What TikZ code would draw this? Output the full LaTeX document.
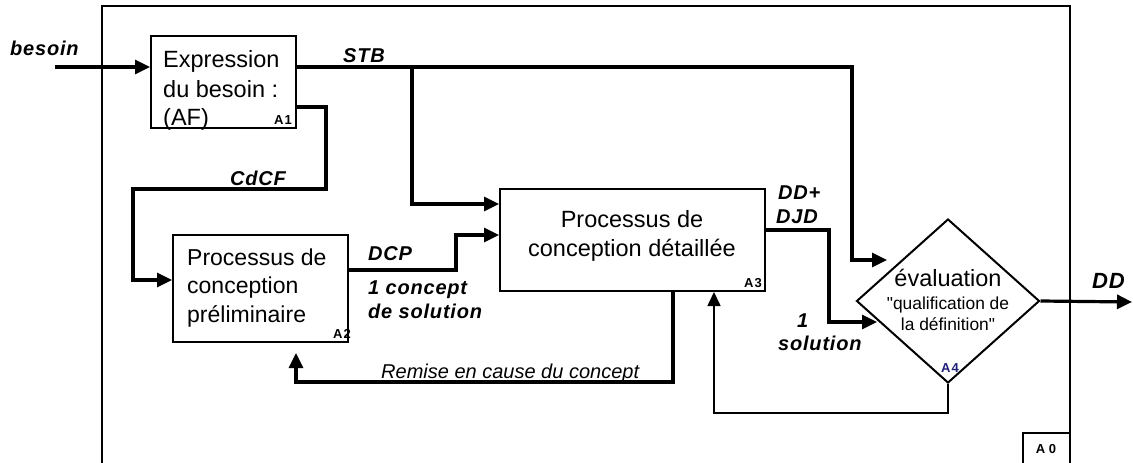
\documentclass[tikz,border=0pt]{standalone}
\usepackage{fontspec}
\setmainfont{Liberation Sans}
\newfontfamily\lblfont[LetterSpace=4]{Liberation Sans}
\newfontfamily\tagfont[LetterSpace=8]{Liberation Sans}
\newfontfamily\qfont[Ligatures=TeXOff]{Liberation Sans}
\usetikzlibrary{arrows.meta,shapes.geometric,calc}
\definecolor{navyA}{RGB}{30,30,120}
\tikzset{
  box/.style={draw, line width=2pt, inner sep=0pt, minimum width=#1},
  arr/.style={line width=3.2pt, -{Triangle[length=15pt,width=14pt]}},
  thinarr/.style={line width=1.6pt, -{Triangle[length=14pt,width=13pt]}},
  boxtxt/.style={inner sep=0pt, anchor=base west, font=\fontsize{23.5}{28}\selectfont},
  ctxt/.style={inner sep=0pt, anchor=base, font=\fontsize{23.5}{28}\selectfont},
  lbl/.style={inner sep=0pt, anchor=base west, font=\lblfont\fontsize{20}{24}\selectfont\bfseries\itshape},
  tag/.style={inner sep=0pt, anchor=base east, font=\tagfont\fontsize{13}{15}\selectfont\bfseries},
}
\begin{document}
\begin{tikzpicture}[x=1pt,y=-1pt]
\useasboundingbox (0,0) rectangle (1133,463);
% frame
\draw[line width=1.6pt] (102,463) -- (102,6) -- (1070,6) -- (1070,463);
\draw[line width=1.6pt] (1023,463) -- (1023,433) -- (1070,433);
\node[inner sep=0pt, anchor=base, font=\fontsize{13}{15}\selectfont\bfseries] (a0) at (1046,453) {A 0};

% boxes
\node[box=145pt, minimum height=92pt] (A1) at (223.5,82) {};
\node[box=175pt, minimum height=107pt] (A2) at (260.5,288.5) {};
\node[box=265pt, minimum height=102pt] (A3) at (632.5,240) {};
\node[draw, line width=2pt, diamond, inner sep=0pt, minimum width=183pt, minimum height=164pt] (D) at (948,301) {};

% box texts
\node[boxtxt] (t11) at (163,67) {Expression};
\node[boxtxt] (t12) at (163,97) {du besoin :};
\node[boxtxt] (t13) at (163,125) {(AF)};
\node[tag] (tA1) at (292,124) {A1};

\node[boxtxt, font=\fontsize{23}{28}\selectfont] (t21) at (187,265) {Processus de};
\node[boxtxt, font=\fontsize{23}{28}\selectfont] (t22) at (187,293) {conception};
\node[boxtxt, font=\fontsize{23}{28}\selectfont] (t23) at (187,322) {préliminaire};
\node[tag] (tA2) at (351,338) {A2};

\node[ctxt] (t31) at (632,227) {Processus de};
\node[ctxt] (t32) at (632,256) {conception détaillée};
\node[tag] (tA3) at (762,287) {A3};

\node[ctxt] (t41) at (948,286) {évaluation};
\node[inner sep=0pt, anchor=base, font=\qfont\fontsize{17.4}{21}\selectfont] (t42) at (948,309) {"qualification de};
\node[inner sep=0pt, anchor=base, font=\qfont\fontsize{17.4}{21}\selectfont] (t43) at (948,330) {la définition"};
\node[tag, anchor=base, text=navyA] (tA4) at (950,372) {A4};

% coordinates
\coordinate (bin) at (55,67);
\coordinate (stbC) at (852,67);
\coordinate (stbTip) at (887,260);
\coordinate (brC) at (412,67);
\coordinate (cd1) at (326,189);
\coordinate (cd2) at (133,280);
\coordinate (dcpC) at (456,235);
\coordinate (remC) at (296,382);
\coordinate (remTip) at (296,353);
\coordinate (ddjC) at (829,322);
\coordinate (ddjTip) at (877,322);
\coordinate (fbC) at (714,413);
\coordinate (ddOut) at (1132,302);

% connectors
\draw[arr] (bin) -- (bin -| A1.west);
\draw[arr] (A1.east |- stbC) -- (stbC) |- (stbTip);
\draw[arr] (brC) |- (A3.west |- 0,204);
\draw[arr] (A1.east |- 0,107) -| (cd1) -| (cd2) -- (cd2 -| A2.west);
\draw[arr] (A2.east |- 0,270) -| (dcpC) -- (dcpC -| A3.west);
\draw[arr] (A3.south -| 673,0) |- (remC) -- (remTip);
\draw[arr] (A3.east |- 0,230) -| (ddjC) -- (ddjTip);
\draw[thinarr] (D.south) |- (fbC) -- (fbC |- A3.south);
\draw[arr] (D.east) -- (ddOut);

% labels
\node[lbl] (lbes) at (10,55) {besoin};
\node[lbl] (lstb) at (343,62) {STB};
\node[lbl] (lcd) at (230,185) {CdCF};
\node[lbl] (ldcp) at (368,260) {DCP};
\node[lbl] (l1c) at (368,294) {1 concept};
\node[lbl] (lds) at (368,318) {de solution};
\node[inner sep=0pt, anchor=base west, font=\fontsize{20}{24}\selectfont\itshape] (lrem) at (381,378) {Remise en cause du concept};
\node[lbl] (ldd1) at (778,199) {DD+};
\node[lbl] (ldd2) at (776,223) {DJD};
\node[lbl] (l1) at (797,327) {1};
\node[lbl] (lsol) at (778,350) {solution};
\node[lbl, font=\lblfont\fontsize{22}{24}\selectfont\bfseries\itshape] (ldd) at (1092,288) {DD};
\end{tikzpicture}
\end{document}
